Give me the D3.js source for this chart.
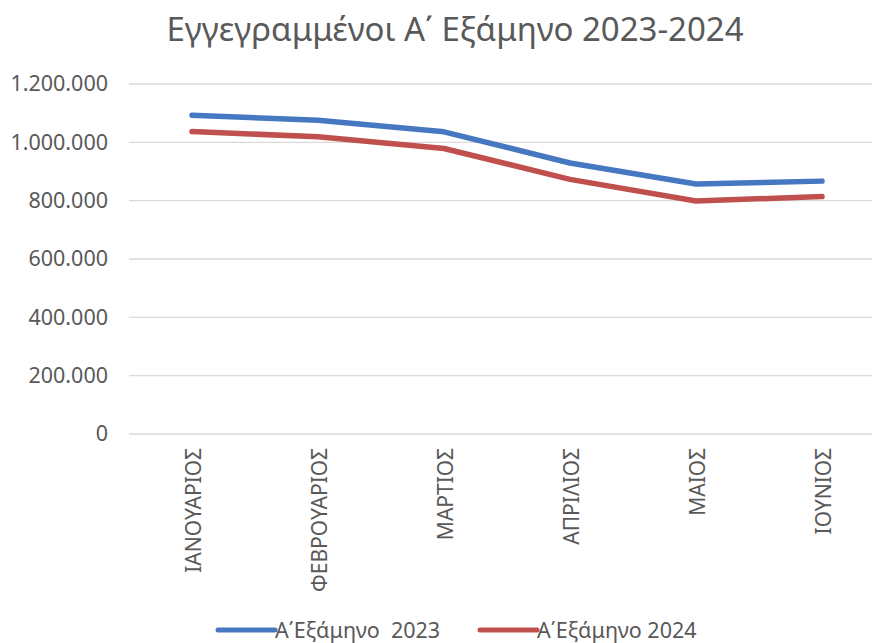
<!DOCTYPE html>
<html>
<head>
<meta charset="utf-8">
<script src="https://cdn.jsdelivr.net/npm/d3@7"></script>
<style>
  html, body { margin: 0; padding: 0; background: #fff; }
  svg { display: block; }
  text { font-family: "Noto Sans", "Open Sans", sans-serif; fill: #595959; }
</style>
</head>
<body>
<svg id="chart" width="872" height="643"></svg>
<script>
const titleText = "Εγγεγραμμένοι Α΄ Εξάμηνο 2023-2024";
const months = ["ΙΑΝΟΥΑΡΙΟΣ", "ΦΕΒΡΟΥΑΡΙΟΣ", "ΜΑΡΤΙΟΣ", "ΑΠΡΙΛΙΟΣ", "ΜΑΙΟΣ", "ΙΟΥΝΙΟΣ"];
const series2023 = [1093000, 1076000, 1036000, 929000, 857000, 867000];
const series2024 = [1037000, 1019000, 979000, 873000, 799000, 814000];
const seriesNames = ["Α΄Εξάμηνο  2023", "Α΄Εξάμηνο 2024"];
const seriesColors = ["#4677c1", "#c0504d"];
const yTicks = [0, 200000, 400000, 600000, 800000, 1000000, 1200000];

const svg = d3.select("#chart");
const margin = { left: 129, right: 885, top: 84, bottom: 434 };

const x = d3.scaleBand().domain(months).range([margin.left, margin.right]);
const y = d3.scaleLinear().domain([0, 1200000]).range([margin.bottom, margin.top]);

const fmt = v => v === 0 ? "0" : d3.format(",")(v).replace(/,/g, ".");

// gridlines
svg.append("g").selectAll("line").data(yTicks).join("line")
  .attr("x1", margin.left).attr("x2", 872)
  .attr("y1", d => y(d)).attr("y2", d => y(d))
  .attr("stroke", "#d9d9d9").attr("stroke-width", 1.3);

// y axis
const yAxis = svg.append("g")
  .attr("transform", `translate(${margin.left},0)`)
  .call(d3.axisLeft(y).tickValues(yTicks).tickFormat(fmt).tickSize(0).tickPadding(21));
yAxis.select(".domain").remove();
yAxis.selectAll("text").attr("font-size", 21.5).attr("fill", "#595959")
  .style("font-family", "'Noto Sans', sans-serif");

// x axis
const xAxis = svg.append("g")
  .attr("transform", `translate(0,${margin.bottom})`)
  .call(d3.axisBottom(x).tickSize(0).tickPadding(0));
xAxis.select(".domain").remove();
xAxis.selectAll("text")
  .attr("transform", "rotate(-90)")
  .attr("text-anchor", "end")
  .attr("x", -14).attr("y", 2).attr("dy", "0.35em")
  .attr("font-size", 21).attr("fill", "#595959")
  .style("font-family", "'Noto Sans', sans-serif");

// lines
const line = d3.line()
  .x((d, i) => x(months[i]) + x.bandwidth() / 2)
  .y(d => y(d));

[series2023, series2024].forEach((s, k) => {
  svg.append("path").datum(s)
    .attr("d", line)
    .attr("fill", "none")
    .attr("stroke", seriesColors[k])
    .attr("stroke-width", 5.5)
    .attr("stroke-linecap", "round")
    .attr("stroke-linejoin", "round");
});

// title
svg.append("text")
  .attr("x", 455).attr("y", 41)
  .attr("text-anchor", "middle")
  .attr("font-size", 33)
  .text(titleText);

// legend
const legendX = [218, 480];
const lg = svg.append("g");
seriesNames.forEach((name, k) => {
  lg.append("line")
    .attr("x1", legendX[k]).attr("x2", legendX[k] + 57)
    .attr("y1", 630).attr("y2", 630)
    .attr("stroke", seriesColors[k]).attr("stroke-width", 5)
    .attr("stroke-linecap", "round");
  lg.append("text")
    .attr("x", legendX[k] + 57).attr("y", 630).attr("dy", "0.35em")
    .attr("font-size", 21.5)
    .attr("xml:space", "preserve")
    .style("white-space", "pre")
    .text(name);
});
</script>
</body>
</html>
